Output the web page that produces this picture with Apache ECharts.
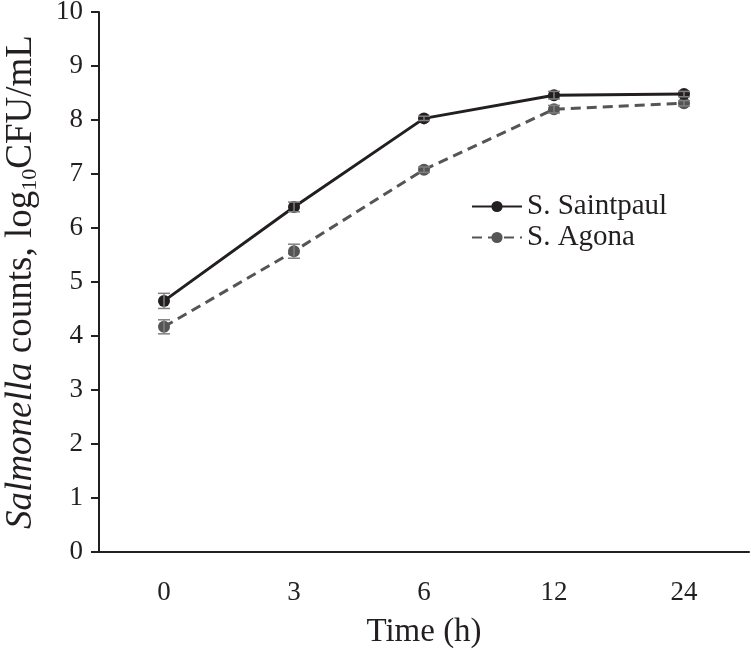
<!DOCTYPE html>
<html><head><meta charset="utf-8">
<script src="https://cdn.jsdelivr.net/npm/echarts@6/dist/echarts.min.js"></script>
<style>html,body{margin:0;padding:0;background:#fff}#c{width:751px;height:650px}</style>
</head><body><div id="c"></div>
<script>
var categories = ['0', '3', '6', '12', '24'];
var saintpaul = [4.65, 6.39, 8.03, 8.46, 8.48];
var saintpaulErr = [0.14, 0.09, 0.04, 0.07, 0.05];
var agona = [4.17, 5.57, 7.08, 8.20, 8.31];
var agonaErr = [0.13, 0.13, 0.05, 0.07, 0.05];
var yTicks = [0, 1, 2, 3, 4, 5, 6, 7, 8, 9, 10];

var FONT = '"Liberation Serif", "Times New Roman", serif';
var chart = echarts.init(document.getElementById('c'));

function errData(vals, errs) {
  return vals.map(function (v, i) { return [i, v - errs[i], v + errs[i]]; });
}
function errRender(color) {
  return function (params, api) {
    var x = api.value(0);
    var lo = api.coord([x, api.value(1)]);
    var hi = api.coord([x, api.value(2)]);
    var w = 6;
    var st = { stroke: color, lineWidth: 1.5 };
    return { type: 'group', children: [
      { type: 'line', shape: { x1: lo[0], y1: lo[1], x2: hi[0], y2: hi[1] }, style: st },
      { type: 'line', shape: { x1: lo[0] - w, y1: lo[1], x2: lo[0] + w, y2: lo[1] }, style: st },
      { type: 'line', shape: { x1: hi[0] - w, y1: hi[1], x2: hi[0] + w, y2: hi[1] }, style: st }
    ]};
  };
}

chart.setOption({
  animation: false,
  backgroundColor: '#fff',
  grid: { left: 99, right: 2, top: 12, bottom: 98, containLabel: false, outerBoundsMode: 'none' },
  legend: {
    left: 471, top: 192, orient: 'vertical', itemGap: 2, padding: 0,
    itemWidth: 50, itemHeight: 14,
    textStyle: { fontFamily: FONT, fontSize: 29, color: '#231f20' },
    data: ['S. Saintpaul', 'S. Agona']
  },
  xAxis: {
    type: 'category', data: categories, boundaryGap: true,
    name: 'Time (h)', nameLocation: 'middle', nameGap: 64,
    nameTextStyle: { fontFamily: FONT, fontSize: 33, color: '#231f20' },
    axisLine: { lineStyle: { color: '#231f20', width: 2 } },
    axisTick: { alignWithLabel: true, length: 7, lineStyle: { color: '#231f20', width: 2 } },
    axisLabel: { fontFamily: FONT, fontSize: 27, color: '#231f20', margin: 27 }
  },
  yAxis: {
    type: 'value', min: yTicks[0], max: yTicks[yTicks.length - 1], interval: 1,
    name: '{i|Salmonella} counts, log{s|10}CFU/mL',
    nameLocation: 'middle', nameRotate: 90, nameGap: 58,
    nameTextStyle: {
      fontFamily: FONT, fontSize: 37, color: '#231f20',
      rich: {
        i: { fontFamily: FONT, fontSize: 37, fontStyle: 'italic', color: '#231f20' },
        s: { fontFamily: FONT, fontSize: 22, color: '#231f20', padding: [17, 0, 0, 0] }
      }
    },
    splitLine: { show: false },
    axisLine: { show: true, lineStyle: { color: '#231f20', width: 2 } },
    axisTick: { show: true, length: 8, lineStyle: { color: '#231f20', width: 2 } },
    axisLabel: { fontFamily: FONT, fontSize: 27, color: '#231f20', margin: 16,
      formatter: function (v) { return String(v); } }
  },
  series: [
    { name: 'S. Saintpaul', type: 'line', data: saintpaul, symbol: 'circle', symbolSize: 12,
      itemStyle: { color: '#231f20' }, lineStyle: { color: '#231f20', width: 3 }, z: 3 },
    { name: 'S. Agona', type: 'line', data: agona, symbol: 'circle', symbolSize: 12,
      itemStyle: { color: '#555555' }, lineStyle: { color: '#555555', width: 3, type: [10, 6] }, z: 2 },
    { type: 'custom', data: errData(saintpaul, saintpaulErr), renderItem: errRender('#808080'), z: 4, silent: true },
    { type: 'custom', data: errData(agona, agonaErr), renderItem: errRender('#808080'), z: 4, silent: true }
  ]
});
</script></body></html>
